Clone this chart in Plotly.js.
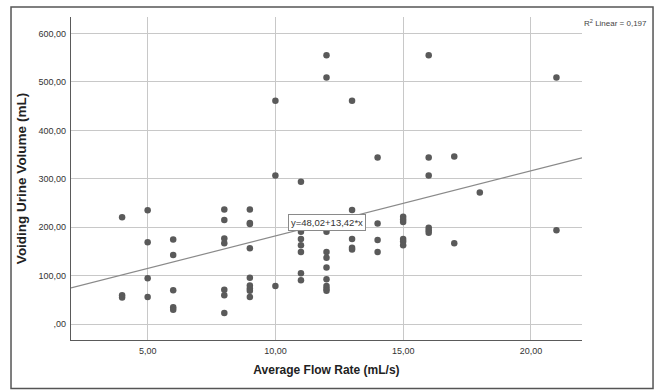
<!DOCTYPE html>
<html>
<head>
<meta charset="utf-8">
<script src="https://cdn.plot.ly/plotly-3.0.1.min.js"></script>
<style>html,body{margin:0;padding:0;background:#fff;}#chart{width:657px;height:390px;}</style>
</head>
<body>
<div id="chart"></div>
<script>
// Average flow rate (mL/s)
var flowRate = [
  4,4,4,
  5,5,5,5,
  6,6,6,6,6,
  8,8,8,8,8,8,8,
  9,9,9,9,9,9,9,9,9,
  10,10,10,
  11,11,11,11,11,11,11,
  12,12,12,12,12,12,12,12,12,12,
  13,13,13,13,13,
  14,14,14,14,
  15,15,15,15,15,15,
  16,16,16,16,16,16,
  17,17,
  18,
  21,21
];
// Voiding urine volume (mL)
var voidVolume = [
  221,60,55,
  235,169,95,56,
  175,143,70,35,30,
  237,215,177,167,71,60,23,
  237,209,207,157,96,80,74,69,56,
  461,307,79,
  294,191,176,163,149,105,91,
  555,509,191,149,137,117,93,79,73,69,
  461,236,176,158,154,
  344,208,174,149,
  222,216,211,176,171,163,
  555,344,307,199,194,189,
  346,167,
  272,
  509,194
];
var fitIntercept = 48.02;
var fitSlope = 13.42;
var fitLabel = "y=48,02+13,42*x";
var r2Label = "R<sup>2</sup> Linear = 0,197";
var xRange = [2, 22];
var yRange = [-32.5, 634];
var xTickVals = [5, 10, 15, 20];
var xTickText = ["5,00", "10,00", "15,00", "20,00"];
var yTickVals = [0, 100, 200, 300, 400, 500, 600];
var yTickText = [",00", "100,00", "200,00", "300,00", "400,00", "500,00", "600,00"];

var fitX = xRange.slice();
var fitY = fitX.map(function (v) { return fitIntercept + fitSlope * v; });
var labelX = 12;
var labelY = fitIntercept + fitSlope * labelX;

var FONT = "Arial, 'Liberation Sans', sans-serif";

var traces = [
  {
    x: fitX, y: fitY, type: "scatter", mode: "lines",
    line: {color: "#8a8a8a", width: 1.2},
    hoverinfo: "skip", showlegend: false
  },
  {
    x: flowRate, y: voidVolume, type: "scatter", mode: "markers",
    marker: {color: "#5a5a5a", size: 6.5, line: {width: 0}},
    showlegend: false
  }
];

var layout = {
  width: 657, height: 390,
  margin: {l: 71, r: 75, t: 17, b: 49.5, pad: 0},
  paper_bgcolor: "#ffffff", plot_bgcolor: "#ffffff",
  font: {family: FONT, color: "#333333", size: 9},
  showlegend: false,
  xaxis: {
    range: xRange, tickvals: xTickVals, ticktext: xTickText,
    showgrid: true, gridcolor: "#c8c8c8", gridwidth: 1,
    zeroline: false, showline: true, linecolor: "#5a5a5a", linewidth: 1.2,
    ticks: "", ticklabelstandoff: 2,
    tickfont: {family: FONT, size: 9, color: "#333333"},
    title: {text: "Average Flow Rate (mL/s)", standoff: 10,
            font: {family: FONT, size: 12, color: "#222222", weight: "bold"}}
  },
  yaxis: {
    range: yRange, tickvals: yTickVals, ticktext: yTickText,
    showgrid: true, gridcolor: "#c8c8c8", gridwidth: 1,
    zeroline: false, showline: true, linecolor: "#5a5a5a", linewidth: 1.2,
    ticks: "", ticklabelstandoff: 2,
    tickfont: {family: FONT, size: 9, color: "#333333"},
    title: {text: "Voiding Urine Volume (mL)", standoff: 8,
            font: {family: FONT, size: 13.5, color: "#222222", weight: "bold"}}
  },
  shapes: [
    {type: "rect", xref: "paper", yref: "paper",
     x0: -0.1174, x1: 1.139, y0: -0.1498, y1: 1.0309,
     line: {color: "#555555", width: 1.5}, fillcolor: "rgba(0,0,0,0)", layer: "above"}
  ],
  annotations: [
    {x: labelX, y: labelY, xref: "x", yref: "y", text: fitLabel, showarrow: false,
     bgcolor: "#ffffff", bordercolor: "#8a8a8a", borderwidth: 1, borderpad: 2,
     font: {family: FONT, size: 9.5, color: "#333333"}},
    {x: 1.0, y: 0.98, xref: "paper", yref: "paper", xanchor: "left", yanchor: "middle",
     text: r2Label, showarrow: false,
     font: {family: FONT, size: 8, color: "#444444"}}
  ]
};

Plotly.newPlot("chart", traces, layout, {displayModeBar: false, staticPlot: true});
</script>
</body>
</html>
